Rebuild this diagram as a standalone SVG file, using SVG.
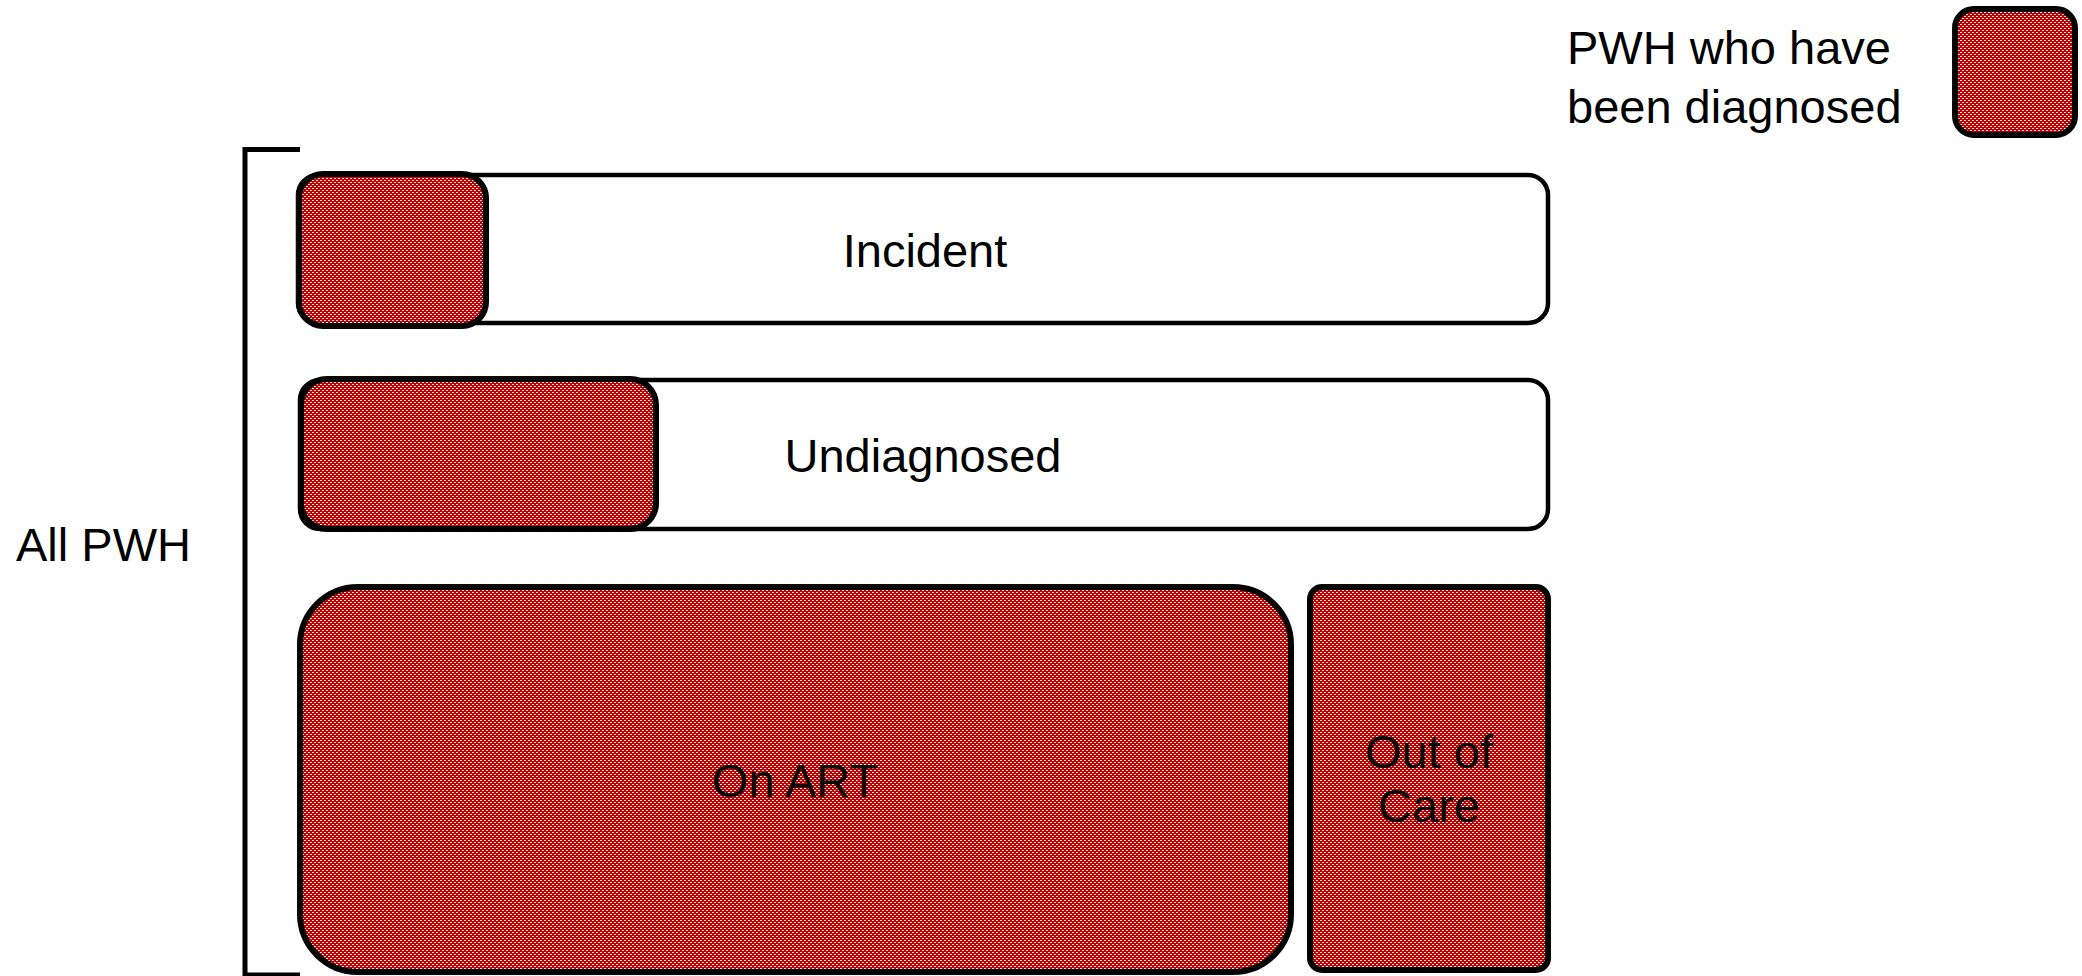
<svg xmlns="http://www.w3.org/2000/svg" width="2082" height="976" viewBox="0 0 2082 976">
  <defs>
    <!-- red/white hatch used for the diagnosed groups -->
    <pattern id="hatch" width="4" height="4" patternUnits="userSpaceOnUse">
      <rect width="4" height="4" fill="#C00000"/>
      <rect x="0" y="0" width="1" height="1" fill="#FFFFFF"/>
      <rect x="2" y="2" width="1" height="1" fill="#FFFFFF"/>
      <rect x="1" y="0" width="1" height="1" fill="#F4C8C8"/>
      <rect x="3" y="2" width="1" height="1" fill="#F4C8C8"/>
    </pattern>
  </defs>
  <style>
    .row { fill: #FFFFFF; stroke: #000000; stroke-width: 4.5; }
    .dx { fill: url(#hatch); stroke: #000000; stroke-width: 6; }
    .lbl { font-family: "Liberation Sans", Arial, sans-serif; font-size: 47px; fill: #000000; }
    .mid { text-anchor: middle; }
    .bracket { fill: none; stroke: #000000; stroke-width: 5; }
  </style>
  <rect width="2082" height="976" fill="#FFFFFF"/>

  <!-- legend -->
  <g id="legend">
    <text class="lbl" x="1567" y="64">PWH who have</text>
    <text class="lbl" x="1567" y="123">been diagnosed</text>
    <rect class="dx" x="1955" y="9" width="120" height="126" rx="19"/>
  </g>

  <!-- bracket grouping all rows -->
  <g id="connectors">
    <path class="bracket" d="M300,149.5 H245 V975 H300"/>
  </g>
  <g id="all-pwh">
    <text class="lbl" x="16" y="561">All PWH</text>
  </g>

  <!-- row 1: incident -->
  <g id="incident">
    <rect class="row" x="298" y="175" width="1250" height="148" rx="20"/>
    <rect class="dx" x="299" y="174" width="187" height="152" rx="24"/>
    <text class="lbl mid" x="925" y="267">Incident</text>
  </g>

  <!-- row 2: undiagnosed -->
  <g id="undiagnosed">
    <rect class="row" x="300" y="380" width="1248" height="149" rx="20"/>
    <rect class="dx" x="301" y="379" width="355" height="150" rx="26"/>
    <text class="lbl mid" x="923" y="472">Undiagnosed</text>
  </g>

  <!-- row 3: on ART -->
  <g id="on-art">
    <rect class="dx" x="300" y="587" width="991" height="385" rx="58"/>
    <text class="lbl mid" x="795" y="797">On ART</text>
  </g>

  <!-- row 3: out of care -->
  <g id="out-of-care">
    <rect class="dx" x="1310" y="587" width="238" height="383" rx="12"/>
    <text class="lbl mid" x="1429" y="768">Out of</text>
    <text class="lbl mid" x="1429" y="822">Care</text>
  </g>
</svg>
